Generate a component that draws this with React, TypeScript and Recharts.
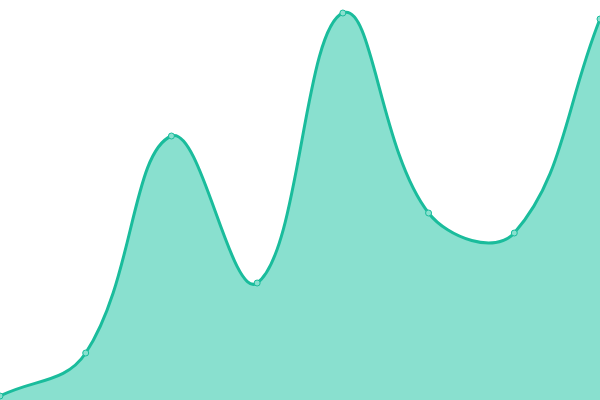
import React from 'react';
import { AreaChart, Area, XAxis, YAxis } from 'recharts';

const categories = ['A', 'B', 'C', 'D', 'E', 'F', 'G', 'H'];
const values = [4, 47, 264, 117, 387, 187, 167, 381];

const data = categories.map((name, i) => ({ name, value: values[i] }));

// spline with tension 0.4, control points scaled by neighbour distances
const tensionCurve = (context: any) => {
    let pts: number[][] = [];
    let line = NaN;
    const t = 0.4;
    return {
        areaStart() { line = 0; },
        areaEnd() { line = NaN; },
        lineStart() { pts = []; },
        lineEnd() {
            const n = pts.length;
            if (n > 0) {
                const cps = pts.map((p, i) => {
                    const prev = pts[Math.max(i - 1, 0)];
                    const next = pts[Math.min(i + 1, n - 1)];
                    const d01 = Math.hypot(p[0] - prev[0], p[1] - prev[1]);
                    const d12 = Math.hypot(next[0] - p[0], next[1] - p[1]);
                    let s01 = d01 / (d01 + d12);
                    let s12 = d12 / (d01 + d12);
                    if (isNaN(s01)) s01 = 0;
                    if (isNaN(s12)) s12 = 0;
                    const fa = t * s01;
                    const fb = t * s12;
                    return {
                        inX: p[0] - fa * (next[0] - prev[0]),
                        inY: p[1] - fa * (next[1] - prev[1]),
                        outX: p[0] + fb * (next[0] - prev[0]),
                        outY: p[1] + fb * (next[1] - prev[1]),
                    };
                });
                if (line) context.lineTo(pts[0][0], pts[0][1]);
                else context.moveTo(pts[0][0], pts[0][1]);
                for (let i = 1; i < n; i++) {
                    context.bezierCurveTo(cps[i - 1].outX, cps[i - 1].outY, cps[i].inX, cps[i].inY, pts[i][0], pts[i][1]);
                }
            }
            if (line || (line !== 0 && n === 1)) context.closePath();
            line = 1 - line;
        },
        point(x: number, y: number) { pts.push([+x, +y]); },
    };
};

export default function App() {
    return (
        <div style={{ position: 'fixed', top: 0, left: 0, width: 600, height: 400, background: '#fff' }}>
            <AreaChart width={600} height={400} data={data} margin={{ top: 0, right: 0, left: 0, bottom: 0 }}>
                <XAxis dataKey="name" hide />
                <YAxis hide domain={[0, 400]} />
                <Area
                    type={tensionCurve as any}
                    dataKey="value"
                    stroke="#1abc9c"
                    strokeWidth={3}
                    fill="#89e0cf"
                    fillOpacity={1}
                    dot={{ r: 3, fill: '#89e0cf', stroke: '#1abc9c', strokeWidth: 1, fillOpacity: 1 }}
                    activeDot={false}
                    isAnimationActive={false}
                />
            </AreaChart>
        </div>
    );
}
